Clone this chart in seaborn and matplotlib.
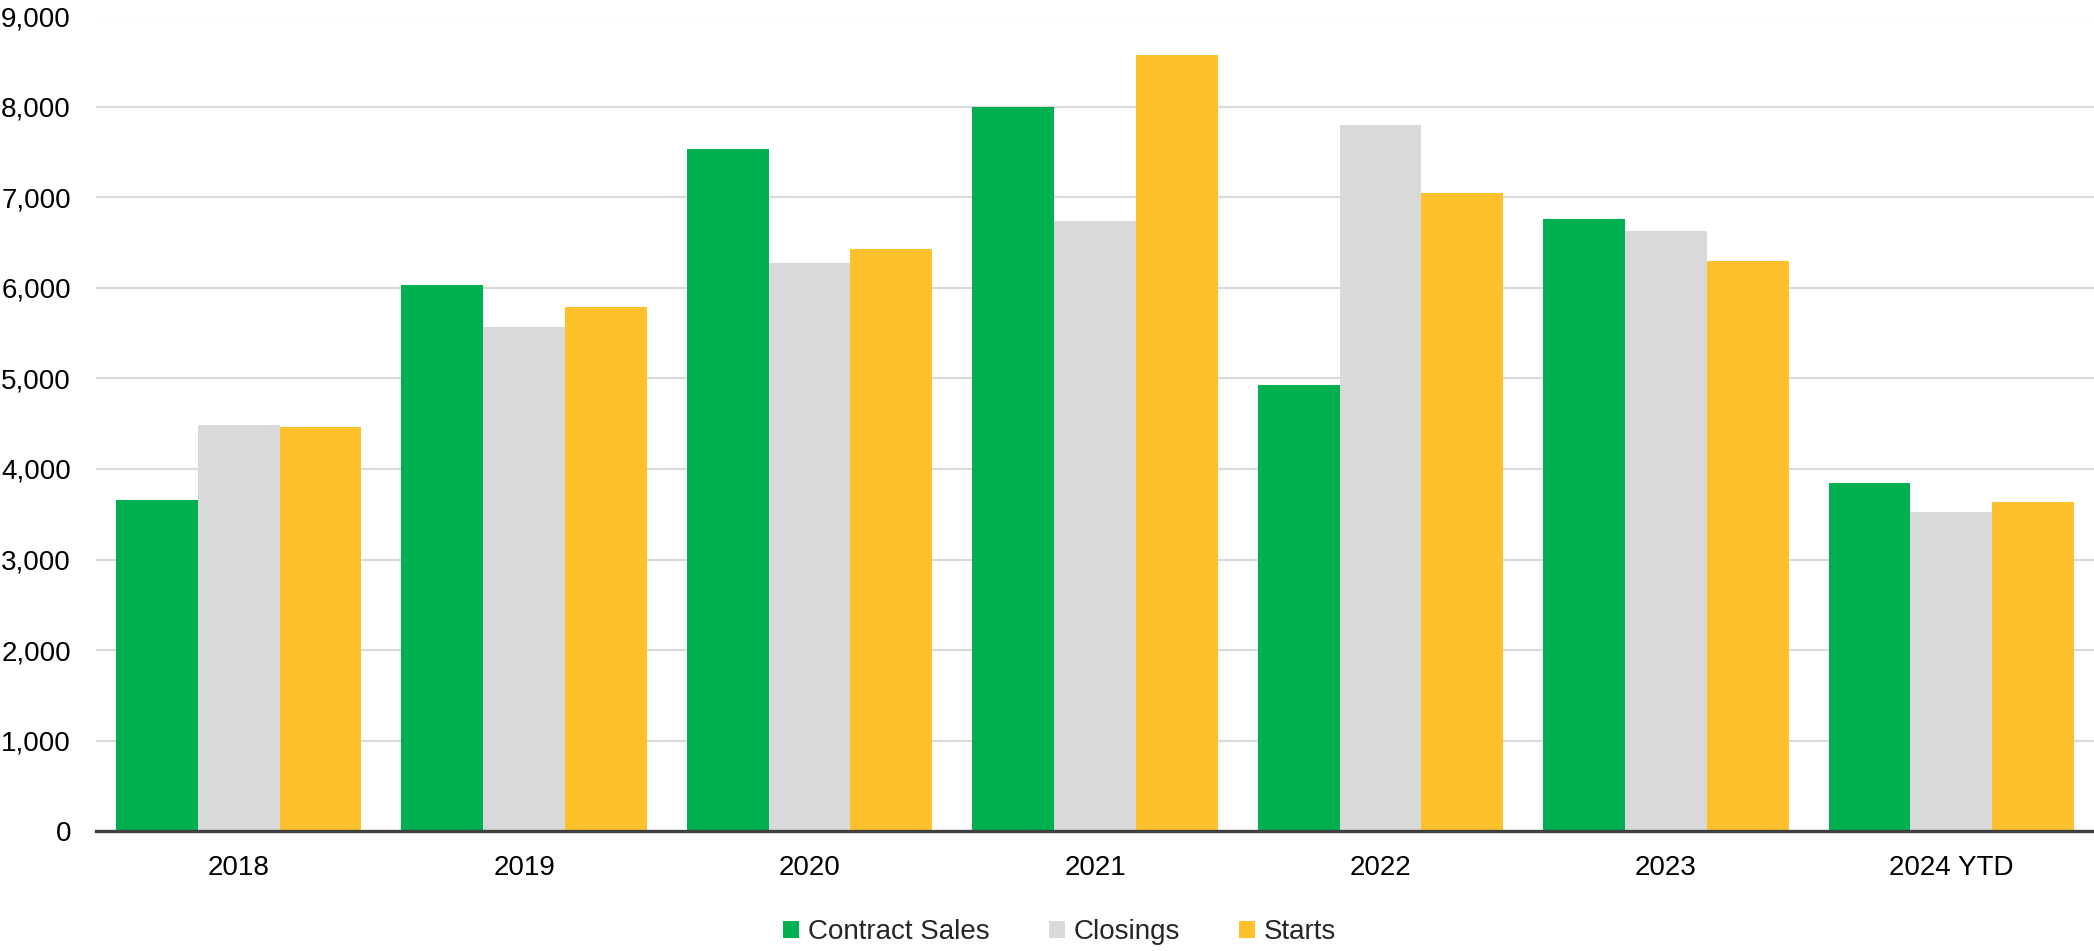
import matplotlib
matplotlib.use("Agg")
import matplotlib.pyplot as plt
from matplotlib.ticker import FuncFormatter, MultipleLocator
import seaborn as sns
import pandas as pd

# Annual home-building activity
years = ["2018", "2019", "2020", "2021", "2022", "2023", "2024 YTD"]
contract_sales = [3657, 6033, 7536, 8000, 4928, 6762, 3845]
closings = [4486, 5569, 6276, 6740, 7801, 6630, 3525]
starts = [4464, 5790, 6431, 8575, 7050, 6298, 3635]

series_names = ["Contract Sales", "Closings", "Starts"]
series_colors = ["#00AF50", "#D9D9D9", "#FEC12B"]

df = pd.DataFrame({
    "year": years * 3,
    "series": [s for s in series_names for _ in years],
    "value": contract_sales + closings + starts,
})

sns.set_theme(style="white")
plt.rcParams["font.family"] = ["Liberation Sans", "DejaVu Sans"]

fig = plt.figure(figsize=(20.94, 9.51), dpi=100)
ax = fig.add_axes([96 / 2094, 120 / 951, 1 - 96 / 2094, (831 - 16.5) / 951])

sns.barplot(
    data=df, x="year", y="value", hue="series",
    order=years, hue_order=series_names,
    palette=series_colors, width=0.86, gap=0,
    saturation=1, linewidth=0, errorbar=None, ax=ax,
)

ax.set_xlim(-0.5, 6.5)
ax.set_ylim(0, 9000)
ax.yaxis.set_major_locator(MultipleLocator(1000))
ax.yaxis.set_major_formatter(FuncFormatter(lambda v, _: f"{int(v):,}"))
ax.grid(axis="y", color="#D9D9D9", linewidth=1.5)
ax.set_axisbelow(True)
ax.set_xlabel("")
ax.set_ylabel("")

for side in ["top", "right", "left"]:
    ax.spines[side].set_visible(False)
ax.spines["bottom"].set_color("#404040")
ax.spines["bottom"].set_linewidth(2.4)

ax.tick_params(axis="y", length=0, pad=18, labelsize=20, labelcolor="black")
ax.tick_params(axis="x", length=0, pad=17, labelsize=20, labelcolor="black")

handles, labels = ax.get_legend_handles_labels()
if ax.legend_ is not None:
    ax.legend_.remove()
fig.legend(
    handles, labels, loc="center", bbox_to_anchor=(0.506, 0.020),
    bbox_transform=fig.transFigure, ncol=3, frameon=False,
    fontsize=20, handlelength=0.58, handleheight=0.58,
    handletextpad=0.32, columnspacing=2.12, borderpad=0, borderaxespad=0,
)

fig.savefig("out.png", dpi=100)
